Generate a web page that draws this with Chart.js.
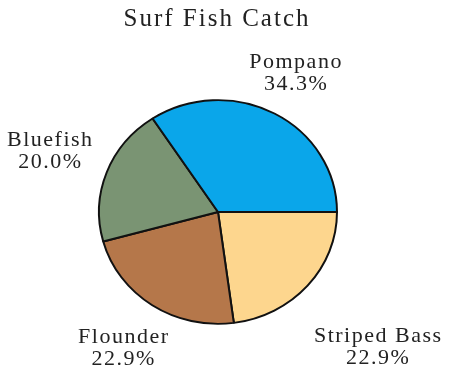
<!DOCTYPE html>
<html>
<head>
<meta charset="utf-8">
<script src="https://cdn.jsdelivr.net/npm/chart.js@4"></script>
<style>
  html, body { margin: 0; padding: 0; background: #fff; }
  #wrap { width: 450px; height: 377px; }
</style>
</head>
<body>
<div id="wrap"><canvas id="pieCanvas" width="450" height="377"></canvas></div>
<script>
// drawn clockwise from 3 o'clock, so the list runs opposite to the usual legend order
const species = ["Striped Bass", "Flounder", "Bluefish", "Pompano"];
const catchPct = [22.9, 22.9, 20.0, 34.3];
const sliceColors = ["#fdd68e", "#b5774a", "#7a9473", "#0aa6ea"];

const chartTitle = "Surf Fish Catch";
const textFont = "'Liberation Serif', 'Times New Roman', serif";

// pie is a touch flatter than round
const squash = {
    id: 'squash',
    beforeDatasetsDraw(chart, args, opts) {
        const arc = chart.getDatasetMeta(0).data[0];
        const ctx = chart.ctx;
        ctx.save();
        ctx.translate(arc.x, arc.y);
        ctx.scale(1, opts.ky);
        ctx.translate(-arc.x, -arc.y);
    },
    afterDatasetsDraw(chart) {
        chart.ctx.restore();
    }
};

// labels sit outside each slice, pushed out along the slice's middle angle
const outsideLabels = {
    id: 'outsideLabels',
    afterDraw(chart, args, opts) {
        const ctx = chart.ctx;
        const meta = chart.getDatasetMeta(0);
        const ky = chart.options.plugins.squash.ky;
        ctx.save();
        ctx.fillStyle = opts.color;
        ctx.textAlign = 'center';
        ctx.textBaseline = 'middle';
        ctx.font = opts.font;
        if ('letterSpacing' in ctx) ctx.letterSpacing = opts.spacing;
        meta.data.forEach((arc, i) => {
            const p = arc.getProps(['x', 'y', 'startAngle', 'endAngle', 'outerRadius'], true);
            const mid = (p.startAngle + p.endAngle) / 2;
            const dx = Math.cos(mid), dy = Math.sin(mid);
            const name = species[i];
            const pct = catchPct[i].toFixed(1) + '%';
            const halfW = Math.max(ctx.measureText(name).width, ctx.measureText(pct).width) / 2;
            const halfH = opts.lineHeight;
            const reach = Math.abs(dx) * halfW + Math.abs(dy) * halfH;
            // extra is a per-slice nudge, same order as species
            const push = opts.gap + reach + (opts.extra[i] || 0);
            const cx = p.x + dx * (p.outerRadius + push);
            const cy = p.y + dy * (p.outerRadius * ky + push);
            ctx.fillText(name, cx, cy - opts.lineHeight / 2);
            ctx.fillText(pct, cx, cy + opts.lineHeight / 2);
        });
        // heading
        ctx.font = opts.titleFont;
        if ('letterSpacing' in ctx) ctx.letterSpacing = opts.titleSpacing;
        ctx.fillText(chartTitle, opts.titleX, opts.titleY);
        ctx.restore();
    }
};

new Chart(document.getElementById('pieCanvas'), {
    type: 'pie',
    data: {
        labels: species,
        datasets: [{
            data: catchPct,
            backgroundColor: sliceColors,
            borderColor: '#111',
            borderWidth: 2
        }]
    },
    options: {
        responsive: false,
        animation: false,
        rotation: 90,
        layout: { padding: { left: 98, right: 112, top: 92, bottom: 45 } },
        plugins: {
            legend: { display: false },
            tooltip: { enabled: false },
            title: { display: false },
            squash: { ky: 0.94 },
            outsideLabels: {
                color: '#222',
                font: '22px ' + textFont,
                titleFont: '25px ' + textFont,
                spacing: '1.5px',
                titleSpacing: '2px',
                lineHeight: 22,
                gap: 6,
                extra: [25, 2, 6, -2],
                titleX: 217,
                titleY: 19
            }
        }
    },
    plugins: [squash, outsideLabels]
});
</script>
</body>
</html>
